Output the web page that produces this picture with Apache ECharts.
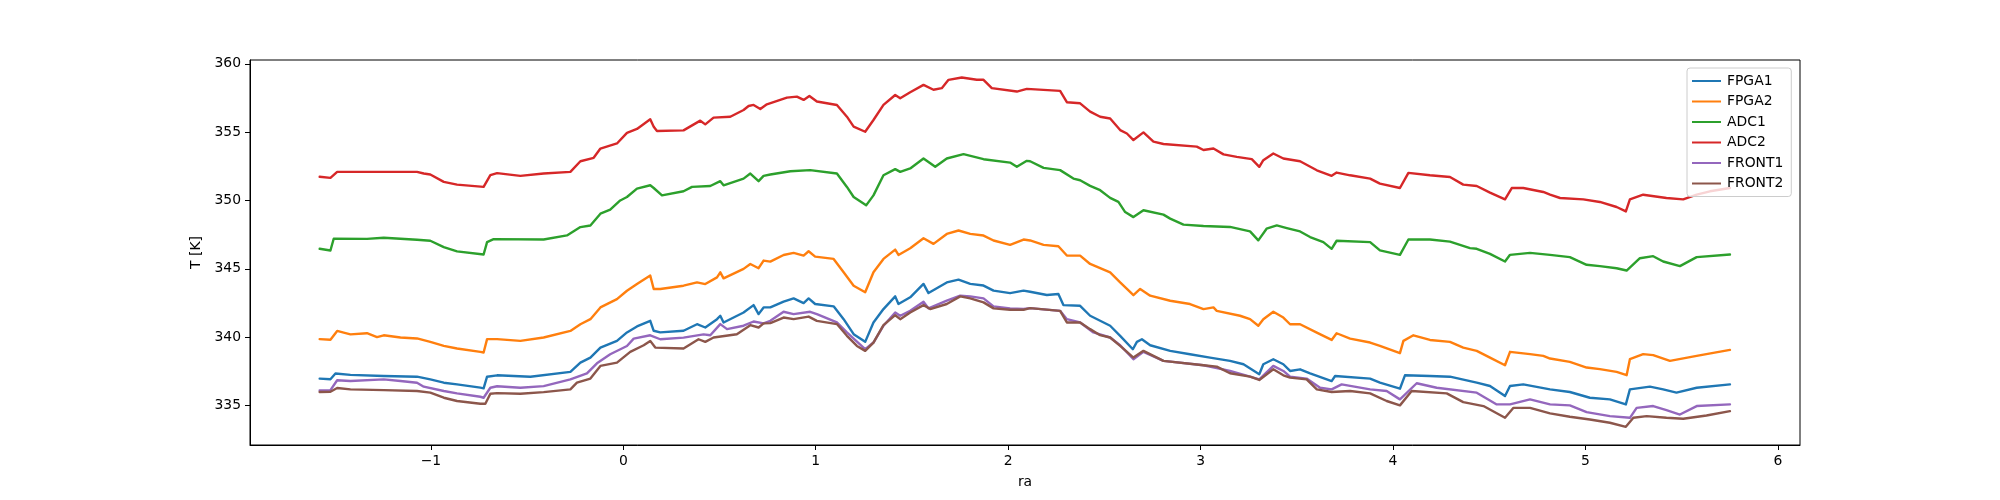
<!DOCTYPE html>
<html>
<head>
<meta charset="utf-8">
<script src="https://cdn.jsdelivr.net/npm/echarts@6/dist/echarts.min.js"></script>
<style>
  html, body { margin: 0; padding: 0; background: #fff; }
  #chart { width: 2000px; height: 500px; }
</style>
</head>
<body>
<div id="chart"></div>
<script>
const seriesNames = ['FPGA1', 'FPGA2', 'ADC1', 'ADC2', 'FRONT1', 'FRONT2'];
const seriesColors = ['#1f77b4', '#ff7f0e', '#2ca02c', '#d62728', '#9467bd', '#8c564b'];
const xTicks = [-1, 0, 1, 2, 3, 4, 5, 6];
const yTicks = [335, 340, 345, 350, 355, 360];

const fpga1 = [
  [-1.578,336.96],[-1.522,336.91],[-1.496,337.33],[-1.418,337.23],[-1.245,337.15],[-1.072,337.10],[-1.003,336.90],[-0.933,336.66],[-0.864,336.54],[-0.743,336.30],[-0.726,336.25],[-0.708,337.10],[-0.656,337.20],
  [-0.483,337.10],[-0.275,337.45],[-0.223,338.13],[-0.171,338.50],[-0.119,339.23],[-0.033,339.72],[0.019,340.34],[0.071,340.78],[0.140,341.19],[0.158,340.46],[0.192,340.34],[0.313,340.46],[0.383,340.94],[0.426,340.70],[0.487,341.31],[0.504,341.56],[0.521,341.07],[0.625,341.80],[0.677,342.34],[0.703,341.68],[0.729,342.17],
  [0.764,342.17],[0.833,342.59],[0.885,342.83],[0.937,342.49],[0.963,342.83],[0.997,342.42],[1.093,342.25],[1.145,341.31],[1.197,340.21],[1.257,339.65],[1.300,341.07],[1.352,342.05],[1.413,342.98],[1.430,342.42],[1.491,342.91],[1.560,343.89],[1.586,343.22],[1.681,344.00],[1.742,344.20],[1.803,343.89],[1.872,343.77],[1.924,343.40],[2.010,343.22],[2.080,343.40],
  [2.114,343.32],[2.201,343.08],[2.261,343.15],[2.287,342.34],[2.374,342.29],[2.426,341.56],[2.530,340.83],[2.582,340.09],[2.648,339.11],[2.669,339.65],[2.695,339.84],[2.738,339.40],[2.842,338.99],[2.945,338.74],[3.049,338.50],[3.153,338.26],[3.223,338.01],[3.305,337.28],[3.326,338.01],[3.378,338.38],[3.430,338.01],
  [3.465,337.52],[3.517,337.64],[3.569,337.35],[3.681,336.78],[3.699,337.15],[3.881,336.96],[3.932,336.66],[4.036,336.22],[4.062,337.20],[4.192,337.15],[4.296,337.10],[4.435,336.66],[4.504,336.42],[4.582,335.68],[4.608,336.42],[4.677,336.54],
  [4.816,336.17],[4.919,335.98],[5.023,335.56],[5.127,335.44],[5.210,335.07],[5.231,336.17],[5.335,336.37],[5.404,336.17],[5.473,335.93],[5.578,336.29],[5.751,336.54]
];

const fpga2 = [
  [-1.578,339.85],[-1.522,339.80],[-1.487,340.45],[-1.453,340.33],[-1.418,340.20],[-1.332,340.28],[-1.280,340.00],[-1.245,340.13],[-1.158,339.97],[-1.072,339.90],[-1.003,339.65],[-0.933,339.36],[-0.864,339.16],[-0.743,338.92],[-0.726,338.87],[-0.708,339.85],[-0.656,339.85],
  [-0.535,339.72],[-0.414,339.97],[-0.275,340.45],[-0.223,340.94],[-0.171,341.31],[-0.119,342.17],[-0.033,342.78],[0.019,343.39],[0.071,343.88],[0.140,344.50],[0.158,343.52],[0.192,343.52],[0.313,343.76],[0.383,344.00],[0.426,343.88],[0.487,344.37],[0.504,344.74],[0.521,344.30],[0.625,344.99],[0.660,345.35],[0.703,345.04],[0.729,345.60],
  [0.764,345.52],[0.833,346.01],[0.885,346.16],[0.937,345.96],[0.963,346.28],[0.997,345.89],[1.093,345.72],[1.145,344.74],[1.197,343.76],[1.257,343.28],[1.300,344.74],[1.352,345.72],[1.413,346.40],[1.430,346.01],[1.491,346.50],[1.560,347.23],[1.612,346.82],[1.681,347.55],[1.742,347.80],[1.803,347.55],[1.872,347.43],[1.924,347.07],[2.010,346.75],[2.080,347.14],
  [2.114,347.07],[2.184,346.75],[2.261,346.65],[2.305,345.97],[2.374,345.96],[2.426,345.35],[2.530,344.74],[2.582,344.00],[2.651,343.07],[2.686,343.52],[2.738,343.03],[2.842,342.66],[2.945,342.42],[3.015,342.05],[3.067,342.17],[3.084,341.92],[3.205,341.56],[3.257,341.31],[3.300,340.83],[3.326,341.31],[3.378,341.85],[3.430,341.43],
  [3.465,340.94],[3.517,340.94],[3.604,340.33],[3.681,339.79],[3.707,340.28],[3.777,339.89],[3.881,339.60],[3.932,339.36],[4.036,338.82],[4.054,339.72],[4.106,340.13],[4.192,339.79],[4.296,339.65],[4.365,339.23],[4.435,338.99],[4.504,338.50],[4.582,337.94],[4.608,338.92],[4.712,338.75],[4.781,338.62],
  [4.816,338.43],[4.919,338.18],[5.006,337.77],[5.075,337.65],[5.162,337.45],[5.214,337.21],[5.231,338.38],[5.300,338.75],[5.352,338.68],[5.439,338.26],[5.578,338.62],[5.751,339.06]
];

const adc1 = [
  [-1.578,346.46],[-1.522,346.34],[-1.505,347.20],[-1.332,347.19],[-1.245,347.27],[-1.072,347.12],[-1.003,347.05],[-0.933,346.58],[-0.864,346.27],[-0.726,346.04],[-0.708,346.95],[-0.674,347.17],
  [-0.414,347.14],[-0.293,347.44],[-0.223,348.05],[-0.171,348.17],[-0.119,349.03],[-0.068,349.32],[-0.016,350.00],[0.019,350.25],[0.071,350.86],[0.140,351.11],[0.158,350.91],[0.201,350.37],[0.313,350.67],[0.357,350.99],[0.452,351.06],[0.504,351.41],[0.521,351.11],[0.625,351.60],[0.660,351.97],[0.703,351.41],[0.729,351.80],
  [0.764,351.90],[0.868,352.14],[0.971,352.22],[1.110,351.97],[1.162,350.99],[1.197,350.25],[1.262,349.64],[1.300,350.37],[1.352,351.84],[1.413,352.29],[1.439,352.09],[1.491,352.34],[1.560,353.07],[1.621,352.46],[1.681,353.07],[1.768,353.39],[1.872,353.02],[2.010,352.77],[2.045,352.46],[2.097,352.90],
  [2.114,352.87],[2.184,352.38],[2.270,352.22],[2.339,351.60],[2.374,351.48],[2.426,351.07],[2.478,350.75],[2.530,350.19],[2.573,349.89],[2.608,349.15],[2.651,348.78],[2.703,349.28],[2.807,348.96],[2.842,348.67],[2.911,348.23],[3.015,348.13],[3.153,348.06],[3.257,347.74],[3.300,347.08],[3.343,347.93],[3.396,348.17],[3.448,347.98],
  [3.517,347.73],[3.569,347.32],[3.638,346.95],[3.681,346.46],[3.707,347.05],[3.881,346.95],[3.932,346.34],[4.036,346.02],[4.080,347.14],[4.192,347.14],[4.296,346.99],[4.400,346.51],[4.435,346.46],[4.504,346.09],[4.582,345.53],[4.608,346.02],[4.712,346.16],
  [4.816,346.02],[4.919,345.85],[5.006,345.29],[5.075,345.19],[5.162,345.04],[5.214,344.87],[5.283,345.77],[5.352,345.92],[5.404,345.53],[5.491,345.19],[5.578,345.85],[5.751,346.04]
];

const adc2 = [
  [-1.578,351.73],[-1.522,351.65],[-1.487,352.09],[-1.332,352.09],[-1.072,352.09],[-1.037,351.97],[-1.003,351.90],[-0.933,351.36],[-0.864,351.16],[-0.726,350.99],[-0.691,351.85],[-0.656,352.00],
  [-0.535,351.80],[-0.414,351.97],[-0.275,352.09],[-0.223,352.87],[-0.154,353.12],[-0.119,353.80],[-0.033,354.17],[0.019,354.95],[0.071,355.23],[0.140,355.94],[0.158,355.40],[0.175,355.08],[0.313,355.13],[0.400,355.84],[0.426,355.57],[0.469,356.06],[0.556,356.13],[0.625,356.62],[0.651,356.91],[0.677,356.99],[0.712,356.70],[0.746,357.04],
  [0.850,357.53],[0.902,357.60],[0.937,357.36],[0.967,357.65],[1.006,357.24],[1.110,356.99],[1.162,356.13],[1.197,355.40],[1.257,355.03],[1.300,355.89],[1.352,356.99],[1.413,357.72],[1.439,357.48],[1.491,357.92],[1.560,358.46],[1.612,358.10],[1.655,358.22],[1.690,358.83],[1.759,359.00],[1.837,358.83],[1.872,358.83],[1.915,358.22],[2.045,357.97],[2.097,358.17],
  [2.270,358.02],[2.305,357.19],[2.374,357.11],[2.426,356.50],[2.478,356.13],[2.530,356.00],[2.582,355.15],[2.617,354.90],[2.651,354.42],[2.703,354.98],[2.755,354.30],[2.807,354.13],[2.980,353.94],[3.015,353.69],[3.067,353.80],[3.119,353.37],[3.188,353.19],[3.266,353.02],[3.305,352.46],[3.326,352.95],[3.378,353.44],[3.430,353.07],
  [3.517,352.87],[3.604,352.21],[3.681,351.80],[3.707,352.04],[3.777,351.84],[3.881,351.60],[3.932,351.23],[4.036,350.91],[4.080,352.02],[4.192,351.84],[4.296,351.72],[4.365,351.16],[4.435,351.06],[4.504,350.57],[4.582,350.08],[4.617,350.91],[4.677,350.91],[4.781,350.62],
  [4.816,350.42],[4.868,350.18],[4.989,350.08],[5.075,349.89],[5.162,349.52],[5.210,349.20],[5.231,350.08],[5.300,350.42],[5.421,350.18],[5.508,350.08],[5.578,350.42],[5.647,350.67],[5.751,350.91]
];

const front1 = [
  [-1.578,336.10],[-1.522,336.12],[-1.487,336.84],[-1.418,336.78],[-1.245,336.90],[-1.158,336.78],[-1.072,336.66],[-1.037,336.37],[-0.933,336.05],[-0.864,335.88],[-0.743,335.63],[-0.726,335.56],[-0.691,336.29],[-0.656,336.40],
  [-0.535,336.29],[-0.414,336.41],[-0.275,336.90],[-0.189,337.34],[-0.137,338.08],[-0.068,338.74],[0.019,339.35],[0.054,339.89],[0.140,340.13],[0.192,339.84],[0.313,339.96],[0.417,340.20],[0.452,340.13],[0.504,340.95],[0.539,340.58],[0.625,340.83],[0.677,341.14],[0.729,341.00],
  [0.764,341.19],[0.833,341.85],[0.885,341.68],[0.971,341.85],[1.006,341.68],[1.110,341.07],[1.162,340.34],[1.197,339.89],[1.257,339.11],[1.300,339.60],[1.352,340.83],[1.413,341.80],[1.439,341.56],[1.491,341.92],[1.560,342.59],[1.586,342.10],[1.681,342.66],[1.751,343.03],[1.803,342.98],[1.872,342.83],[1.924,342.25],[2.010,342.10],[2.080,342.05],
  [2.114,342.12],[2.270,341.92],[2.305,341.31],[2.374,341.07],[2.443,340.34],[2.530,339.97],[2.582,339.40],[2.651,338.38],[2.703,338.92],[2.807,338.26],[3.015,337.94],[3.153,337.52],[3.257,337.10],[3.305,336.91],[3.378,337.89],[3.430,337.52],
  [3.465,337.10],[3.551,336.96],[3.621,336.29],[3.681,336.17],[3.733,336.54],[3.881,336.17],[3.967,336.05],[4.036,335.44],[4.123,336.62],[4.227,336.29],[4.435,335.93],[4.539,335.07],[4.608,335.07],[4.712,335.44],
  [4.816,335.07],[4.919,335.00],[5.006,334.51],[5.127,334.21],[5.231,334.09],[5.266,334.82],[5.352,334.95],[5.421,334.65],[5.491,334.33],[5.578,334.95],[5.751,335.07]
];

const front2 = [
  [-1.578,335.98],[-1.522,336.00],[-1.487,336.27],[-1.418,336.17],[-1.245,336.12],[-1.072,336.05],[-1.003,335.93],[-0.933,335.56],[-0.864,335.32],[-0.743,335.12],[-0.717,335.12],[-0.691,335.85],[-0.656,335.90],
  [-0.535,335.85],[-0.414,335.97],[-0.275,336.17],[-0.241,336.66],[-0.171,336.96],[-0.119,337.89],[-0.033,338.13],[0.036,338.92],[0.106,339.40],[0.140,339.72],[0.166,339.23],[0.313,339.16],[0.391,339.84],[0.426,339.65],[0.469,339.97],[0.590,340.21],[0.660,340.87],[0.703,340.70],[0.729,341.00],
  [0.764,341.02],[0.833,341.43],[0.885,341.31],[0.963,341.50],[1.006,341.19],[1.110,340.95],[1.162,340.09],[1.214,339.35],[1.257,338.99],[1.300,339.60],[1.352,340.87],[1.413,341.60],[1.439,341.31],[1.491,341.80],[1.560,342.34],[1.595,342.05],[1.681,342.42],[1.751,342.98],[1.803,342.83],[1.872,342.54],[1.924,342.10],[2.010,342.00],[2.080,342.00],
  [2.114,342.12],[2.270,341.92],[2.305,341.07],[2.374,341.07],[2.426,340.58],[2.478,340.14],[2.530,339.97],[2.582,339.36],[2.651,338.50],[2.703,338.99],[2.807,338.26],[3.015,337.94],[3.084,337.84],[3.153,337.35],[3.257,337.10],[3.305,336.86],[3.378,337.64],[3.430,337.20],
  [3.465,337.03],[3.551,336.90],[3.604,336.17],[3.681,335.98],[3.777,336.05],[3.881,335.88],[3.967,335.32],[4.036,335.00],[4.097,336.05],[4.279,335.88],[4.365,335.24],[4.470,334.95],[4.582,334.09],[4.626,334.82],[4.712,334.82],
  [4.816,334.41],[4.919,334.17],[5.023,333.97],[5.127,333.73],[5.210,333.43],[5.249,334.09],[5.318,334.21],[5.421,334.09],[5.508,334.02],[5.629,334.26],[5.751,334.58]
];

const seriesData = [fpga1, fpga2, adc1, adc2, front1, front2];

const FONT = 'DejaVu Sans';
const chart = echarts.init(document.getElementById('chart'), null, { renderer: 'canvas' });
chart.setOption({
  animation: false,
  backgroundColor: '#ffffff',
  textStyle: { fontFamily: FONT },
  grid: {
    left: 250, right: 200, top: 60, bottom: 55,
    show: true, borderColor: '#000', borderWidth: 1, backgroundColor: 'transparent'
  },
  legend: {
    orient: 'vertical',
    left: 1687, top: 68,
    data: seriesNames,
    icon: 'rect',
    itemWidth: 29, itemHeight: 2,
    itemGap: 6.5,
    padding: [6, 8, 6, 5],
    backgroundColor: 'rgba(255,255,255,0.8)',
    borderColor: '#cccccc', borderWidth: 1, borderRadius: 3,
    textStyle: { fontFamily: FONT, fontSize: 13.9, color: '#000', padding: [0, 0, 0, 1] },
    itemStyle: { borderWidth: 0 }
  },
  xAxis: {
    type: 'value',
    min: -1.94, max: 6.115,
    name: 'ra', nameLocation: 'middle', nameGap: 30,
    nameTextStyle: { fontFamily: FONT, fontSize: 13.9, color: '#000' },
    splitLine: { show: false },
    axisLine: { show: true, onZero: false, lineStyle: { color: '#000', width: 1 } },
    axisTick: { show: true, length: 5, lineStyle: { color: '#000', width: 1 }, customValues: xTicks },
    axisLabel: { color: '#000', fontFamily: FONT, fontSize: 13.9, margin: 9, customValues: xTicks,
      formatter: v => (v < 0 ? '\u2212' + Math.abs(v) : String(v)) }
  },
  yAxis: {
    type: 'value',
    min: 332.1, max: 360.28,
    name: 'T [K]', nameLocation: 'middle', nameGap: 43, nameRotate: 90,
    nameTextStyle: { fontFamily: FONT, fontSize: 13.9, color: '#000' },
    splitLine: { show: false },
    axisLine: { show: true, onZero: false, lineStyle: { color: '#000', width: 1 } },
    axisTick: { show: true, length: 5, lineStyle: { color: '#000', width: 1 }, customValues: yTicks },
    axisLabel: { color: '#000', fontFamily: FONT, fontSize: 13.9, margin: 9, customValues: yTicks }
  },
  series: seriesNames.map((name, i) => ({
    name: name,
    type: 'line',
    data: seriesData[i],
    showSymbol: false,
    symbol: 'none',
    color: seriesColors[i],
    lineStyle: { color: seriesColors[i], width: 2.4, join: 'round', cap: 'round' },
    emphasis: { disabled: true },
    z: 2 + i * 0.01
  }))
});
</script>
</body>
</html>
